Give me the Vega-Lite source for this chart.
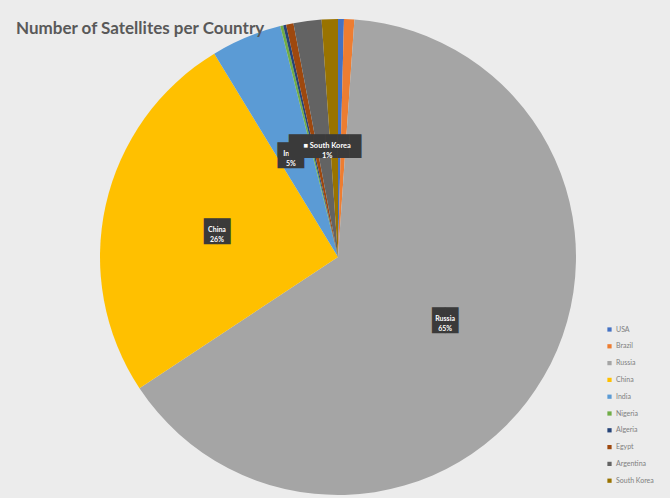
{
  "$schema": "https://vega.github.io/schema/vega-lite/v6.json",
  "width": 676,
  "height": 514,
  "padding": 0,
  "autosize": "none",
  "background": "#ECECEC",
  "view": {"stroke": null},
  "title": {
    "text": "Number of Satellites per Country",
    "anchor": "start",
    "frame": "group",
    "offset": -38,
    "dx": 16,
    "font": "Lato",
    "fontSize": 17,
    "fontWeight": "bold",
    "color": "#595959"
  },
  "data": {
    "values": [
      {"idx": 1, "country": "USA", "value": 0.4, "label": ""},
      {"idx": 2, "country": "Brazil", "value": 0.7, "label": ""},
      {"idx": 3, "country": "Russia", "value": 64.6, "label": "Russia\n65%"},
      {"idx": 4, "country": "China", "value": 25.6, "label": "China\n26%"},
      {"idx": 5, "country": "India", "value": 4.8, "label": "India\n5%"},
      {"idx": 6, "country": "Nigeria", "value": 0.2, "label": ""},
      {"idx": 7, "country": "Algeria", "value": 0.2, "label": ""},
      {"idx": 8, "country": "Egypt", "value": 0.5, "label": ""},
      {"idx": 9, "country": "Argentina", "value": 1.9, "label": ""},
      {"idx": 10, "country": "South Korea", "value": 1.1, "label": "■ South Korea\n1%"}
    ]
  },
  "encoding": {
    "theta": {"field": "value", "type": "quantitative", "stack": true},
    "order": {"field": "idx", "type": "quantitative"}
  },
  "layer": [
    {
      "mark": {"type": "arc", "outerRadius": 238},
      "encoding": {
        "color": {
          "field": "country",
          "type": "nominal",
          "sort": ["USA", "Brazil", "Russia", "China", "India", "Nigeria", "Algeria", "Egypt", "Argentina", "South Korea"],
          "scale": {
            "domain": ["USA", "Brazil", "Russia", "China", "India", "Nigeria", "Algeria", "Egypt", "Argentina", "South Korea"],
            "range": ["#4472C4", "#ED7D31", "#A5A5A5", "#FFC000", "#5B9BD5", "#70AD47", "#264478", "#9E480E", "#636363", "#997300"]
          },
          "legend": {
            "title": null,
            "orient": "none",
            "legendX": 606,
            "legendY": 326,
            "symbolType": "square",
            "symbolSize": 18,
            "labelFontSize": 7,
            "labelFont": "Lato",
            "labelColor": "#7F7F7F",
            "rowPadding": 8.8,
            "labelOffset": 3
          }
        }
      }
    },
    {
      "mark": {"type": "text", "radius": 124, "font": "DejaVu Sans Mono", "fontSize": 22, "color": "#3A3A3A", "baseline": "middle", "dy": 2},
      "encoding": {
        "text": {
          "condition": {"test": "indexof(['Russia','China'], datum.country) >= 0", "value": "██"},
          "value": ""
        }
      }
    },
    {
      "mark": {"type": "text", "radius": 124, "font": "Lato", "fontSize": 7, "fontWeight": "bold", "color": "#FFFFFF", "lineBreak": "\n", "baseline": "middle", "lineHeight": 10},
      "encoding": {
        "text": {
          "condition": {"test": "indexof(['Russia','China'], datum.country) >= 0", "field": "label"},
          "value": ""
        }
      }
    },
    {
      "mark": {"type": "text", "radius": 112, "font": "DejaVu Sans Mono", "fontSize": 22, "color": "#3A3A3A", "baseline": "middle", "dy": 2, "dx": -4},
      "encoding": {
        "text": {
          "condition": {"test": "datum.country == 'India'", "value": "██"},
          "value": ""
        }
      }
    },
    {
      "mark": {"type": "text", "radius": 112, "font": "Lato", "fontSize": 7, "fontWeight": "bold", "color": "#FFFFFF", "lineBreak": "\n", "baseline": "middle", "lineHeight": 10, "dx": -4},
      "encoding": {
        "text": {
          "condition": {"test": "datum.country == 'India'", "field": "label"},
          "value": ""
        }
      }
    },
    {
      "mark": {"type": "text", "radius": 111, "font": "DejaVu Sans Mono", "fontSize": 20, "color": "#3A3A3A", "baseline": "middle", "dy": 1, "dx": -9},
      "encoding": {
        "text": {
          "condition": {"test": "datum.country == 'South Korea'", "value": "██████"},
          "value": ""
        }
      }
    },
    {
      "mark": {"type": "text", "radius": 111, "font": "Lato", "fontSize": 7.5, "fontWeight": "bold", "color": "#FFFFFF", "lineBreak": "\n", "baseline": "middle", "lineHeight": 10, "dx": -7},
      "encoding": {
        "text": {
          "condition": {"test": "datum.country == 'South Korea'", "field": "label"},
          "value": ""
        }
      }
    }
  ]
}
